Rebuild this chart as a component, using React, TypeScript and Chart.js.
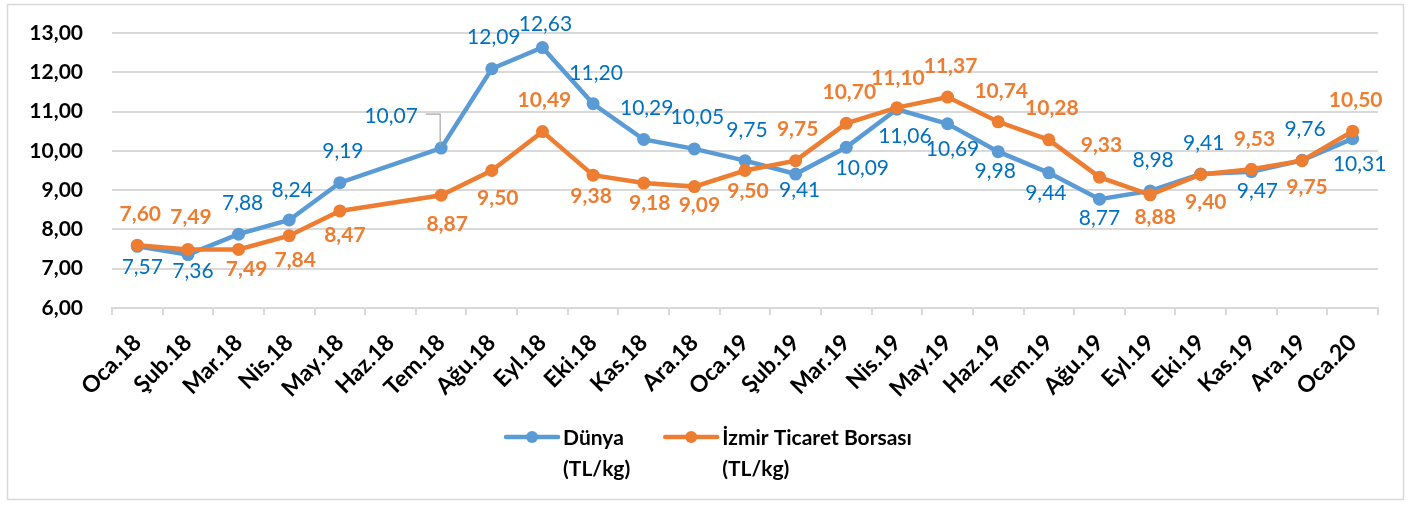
import React, { useEffect, useRef } from 'react';
import { Chart, registerables } from 'chart.js';

Chart.register(...registerables);

const categories = ['Oca.18', 'Şub.18', 'Mar.18', 'Nis.18', 'May.18', 'Haz.18', 'Tem.18', 'Ağu.18', 'Eyl.18', 'Eki.18', 'Kas.18', 'Ara.18', 'Oca.19', 'Şub.19', 'Mar.19', 'Nis.19', 'May.19', 'Haz.19', 'Tem.19', 'Ağu.19', 'Eyl.19', 'Eki.19', 'Kas.19', 'Ara.19', 'Oca.20'];
const dunya = [7.57, 7.36, 7.88, 8.24, 9.19, null, 10.07, 12.09, 12.63, 11.2, 10.29, 10.05, 9.75, 9.41, 10.09, 11.06, 10.69, 9.98, 9.44, 8.77, 8.98, 9.41, 9.47, 9.76, 10.31];
const izmir = [7.6, 7.49, 7.49, 7.84, 8.47, null, 8.87, 9.5, 10.49, 9.38, 9.18, 9.09, 9.5, 9.75, 10.7, 11.1, 11.37, 10.74, 10.28, 9.33, 8.88, 9.4, 9.53, 9.75, 10.5];
const seriesNames = [['Dünya', '(TL/kg)'], ['İzmir Ticaret Borsası', '(TL/kg)']];
const yMin = 6;
const yMax = 13;
const yStep = 1;

// label placement offsets (dx, dy) relative to each point – styling only
const dunyaLabelOffsets = [[5, 20], [5, 16], [4, -32], [3, -31], [3, -32], null, [-50, -33], [2, -32], [3, -24], [3, -31], [3, -32], [3, -32], [2, -31], [4, 15], [16, 20], [8, 26], [5, 25], [-3, 19], [-3, 20], [0, 18], [3, -31], [3, -32], [6, 19], [3, -32], [7, 25]];
const izmirLabelOffsets = [[3, -32], [3, -33], [8, 19], [6, 24], [5, 24], null, [6, 28], [6, 27], [2, -32], [-2, 20], [6, 19], [5, 18], [3, 20], [2, -32], [3, -32], [1, -30], [3, -32], [3, -31], [3, -32], [2, -33], [5, 22], [5, 27], [3, -31], [5, 26], [3, -32]];
const leaderIndex = 6;

const FONT = 'Lato, "Open Sans", "Liberation Sans", sans-serif';
const BLUE = '#5B9BD5';
const BLUE_TEXT = '#0070C0';
const ORANGE = '#ED7D31';

const fmt = (v: number) => v.toFixed(2).replace('.', ',');

const framePlugin = {
  id: 'frame',
  beforeDraw(chart: any) {
    const ctx = chart.ctx;
    ctx.save();
    ctx.fillStyle = '#ffffff';
    ctx.fillRect(0, 0, chart.width, chart.height);
    ctx.strokeStyle = '#d9d9d9';
    ctx.lineWidth = 1.5;
    ctx.strokeRect(7.5, 4.5, 1396, 495);
    ctx.restore();
  },
};

const labelPlugin = {
  id: 'pointLabels',
  afterDatasetsDraw(chart: any) {
    const ctx = chart.ctx;
    const configs = [
      { ds: 0, offsets: dunyaLabelOffsets, color: BLUE_TEXT, weight: 'normal' },
      { ds: 1, offsets: izmirLabelOffsets, color: ORANGE, weight: 'bold' },
    ];
    ctx.save();
    configs.forEach((c) => {
      const meta = chart.getDatasetMeta(c.ds);
      const data = chart.data.datasets[c.ds].data as (number | null)[];
      ctx.font = `${c.weight} 21px ${FONT}`;
      ctx.fillStyle = c.color;
      ctx.textAlign = 'center';
      ctx.textBaseline = 'alphabetic';
      data.forEach((v, i) => {
        if (v == null) return;
        const off = c.offsets[i];
        if (!off) return;
        const pt = meta.data[i];
        const tx = pt.x + off[0];
        const ty = pt.y + off[1];
        ctx.fillText(fmt(v), tx, ty + 7.5);
        if (c.ds === 0 && i === leaderIndex) {
          const w = ctx.measureText(fmt(v)).width;
          ctx.save();
          ctx.strokeStyle = '#a6a6a6';
          ctx.lineWidth = 1.2;
          ctx.beginPath();
          ctx.moveTo(tx + w / 2 + 8, ty - 1);
          ctx.lineTo(pt.x - 1, ty - 1);
          ctx.lineTo(pt.x - 1, pt.y - 3);
          ctx.stroke();
          ctx.restore();
        }
      });
    });
    ctx.restore();
  },
};

const legendPlugin = {
  id: 'customLegend',
  afterDraw(chart: any) {
    const ctx = chart.ctx;
    ctx.save();
    ctx.font = `bold 21px ${FONT}`;
    const colors = [BLUE, ORANGE];
    const markerW = 56;
    const gapText = 3;
    const gapItems = 33;
    const widths = seriesNames.map((lines) => Math.max(...lines.map((l) => ctx.measureText(l).width)));
    const total = widths.reduce((a, w) => a + markerW + gapText + w, 0) + gapItems * (widths.length - 1);
    let x = 708 - total / 2;
    const y0 = 437;
    seriesNames.forEach((lines, k) => {
      ctx.strokeStyle = colors[k];
      ctx.lineWidth = 4.5;
      ctx.lineCap = 'round';
      ctx.beginPath();
      ctx.moveTo(x + 2, y0);
      ctx.lineTo(x + markerW - 2, y0);
      ctx.stroke();
      ctx.fillStyle = colors[k];
      ctx.beginPath();
      ctx.arc(x + markerW / 2, y0, 6, 0, Math.PI * 2);
      ctx.fill();
      ctx.fillStyle = '#000000';
      ctx.textAlign = 'left';
      ctx.textBaseline = 'alphabetic';
      lines.forEach((l, j) => {
        ctx.fillText(l, x + markerW + gapText, y0 + 7.5 + j * 31);
      });
      x += markerW + gapText + widths[k] + gapItems;
    });
    ctx.restore();
  },
};

export default function App() {
  const ref = useRef<HTMLCanvasElement | null>(null);
  useEffect(() => {
    document.body.style.margin = '0';
    if (!ref.current) return;
    const chart = new Chart(ref.current, {
      type: 'line',
      data: {
        labels: categories,
        datasets: [
          {
            label: seriesNames[0].join(' '),
            data: dunya,
            borderColor: BLUE,
            backgroundColor: BLUE,
            borderWidth: 4.5,
            pointRadius: 6.5,
            pointBackgroundColor: BLUE,
            pointBorderWidth: 0,
            spanGaps: true,
            tension: 0,
            order: 1,
          },
          {
            label: seriesNames[1].join(' '),
            data: izmir,
            borderColor: ORANGE,
            backgroundColor: ORANGE,
            borderWidth: 4.5,
            pointRadius: 6.5,
            pointBackgroundColor: ORANGE,
            pointBorderWidth: 0,
            spanGaps: true,
            tension: 0,
            order: 0,
          },
        ],
      },
      options: {
        animation: false,
        responsive: false,
        devicePixelRatio: 1,
        layout: { padding: { top: 33, right: 30, bottom: 107, left: 0 } },
        plugins: { legend: { display: false }, tooltip: { enabled: false } },
        scales: {
          x: {
            type: 'category',
            offset: true,
            grid: { offset: true, drawOnChartArea: false, drawTicks: true, tickLength: 7, color: '#d9d9d9', lineWidth: 2 },
            border: { display: true, color: '#d9d9d9', width: 2 },
            ticks: {
              maxRotation: 45,
              minRotation: 45,
              autoSkip: false,
              color: '#000000',
              padding: 14,
              font: { family: FONT, size: 23, weight: 'bold' },
            },
            afterFit: (s: any) => {
              s.height = 90;
            },
          },
          y: {
            min: yMin,
            max: yMax,
            ticks: {
              stepSize: yStep,
              color: '#000000',
              padding: 29,
              font: { family: FONT, size: 21, weight: 'bold' },
              callback: (v: any) => fmt(Number(v)),
            },
            grid: { color: '#d9d9d9', lineWidth: 2, drawTicks: false },
            border: { display: false },
            afterFit: (s: any) => {
              s.width = 112;
              s.paddingTop = 10;
              s.paddingBottom = 10;
            },
          },
        },
      } as any,
      plugins: [framePlugin, labelPlugin, legendPlugin],
    });
    return () => chart.destroy();
  }, []);
  return (
    <div style={{ width: 1408, height: 505, position: 'relative' }}>
      <canvas ref={ref} width={1408} height={505} style={{ display: 'block' }} />
    </div>
  );
}
